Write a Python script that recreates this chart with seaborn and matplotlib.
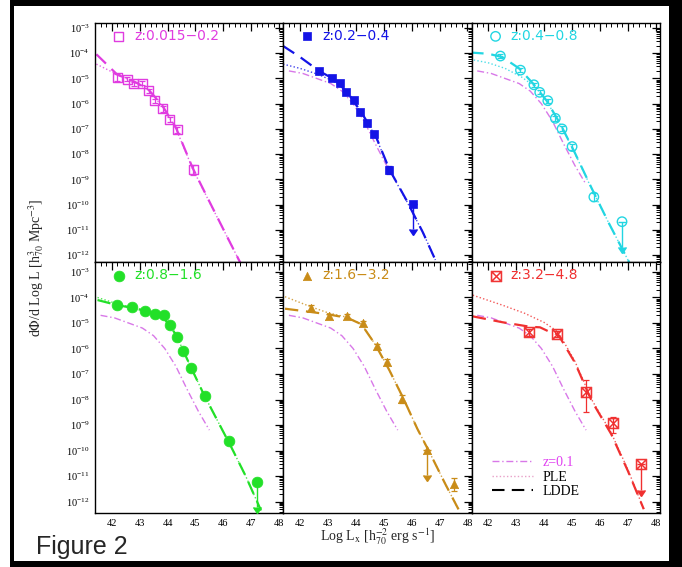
import matplotlib
matplotlib.use("Agg")
import matplotlib.pyplot as plt
import numpy as np
import seaborn as sns
from matplotlib.lines import Line2D
from matplotlib.patches import Rectangle
from matplotlib.ticker import LogLocator, MultipleLocator, NullFormatter

# ---------------------------------------------------------------------------
# Data (x = log L_x, values = log10 dPhi/dlogL)
# ---------------------------------------------------------------------------

# reference z=0.1 model, repeated in panels 2-6
Z01_X = [41.6, 42.1, 42.6, 43.1, 43.5, 43.9, 44.3, 44.7, 45.1, 45.5]
Z01_LOGPHI = [-4.7, -4.8, -5.0, -5.2, -5.5, -6.0, -6.7, -7.6, -8.45, -9.2]

# z: 0.015-0.2
P1_X = [42.19, 42.55, 42.79, 43.09, 43.33, 43.54, 43.83, 44.08, 44.34, 44.92]
P1_LOGPHI = [-4.96, -5.03, -5.20, -5.18, -5.49, -5.88, -6.21, -6.63, -7.03, -8.62]
P1_ERR = [0.12, 0.08, 0.08, 0.08, 0.08, 0.08, 0.1, 0.1, 0.12, 0.2]
P1_LIM_X = []
P1_LIM_LOGPHI = []
P1_LDDE_X = [41.45, 42.2, 42.8, 43.3, 43.8, 44.3, 44.9, 45.5, 46.1, 46.65]
P1_LDDE = [-4.04, -4.85, -5.12, -5.42, -6.05, -6.95, -8.55, -9.88, -11.2, -12.4]
P1_PLE_X = [41.45, 42.3, 42.8, 43.3, 43.8, 44.3, 44.9, 45.5, 46.1, 46.65]
P1_PLE = [-4.43, -4.9, -5.14, -5.45, -6.08, -6.98, -8.58, -9.9, -11.2, -12.4]

# z: 0.2-0.4
P2_X = [42.68, 43.16, 43.42, 43.66, 43.92, 44.16, 44.41, 44.65, 45.18]
P2_LOGPHI = [-4.72, -4.99, -5.16, -5.55, -5.86, -6.34, -6.78, -7.20, -8.62]
P2_ERR = [0.1, 0.08, 0.08, 0.08, 0.08, 0.1, 0.1, 0.12, 0.15]
P2_LIM_X = [46.05]
P2_LIM_LOGPHI = [-9.96]
P2_LDDE_X = [41.39, 42.0, 42.68, 43.2, 43.7, 44.2, 44.7, 45.2, 45.8, 46.4, 46.85]
P2_LDDE = [-3.71, -4.15, -4.70, -5.02, -5.55, -6.35, -7.25, -8.6, -9.8, -11.1, -12.2]
P2_PLE_X = [41.39, 42.0, 42.6, 43.2, 43.7, 44.2, 44.7, 45.2, 45.8, 46.4, 46.85]
P2_PLE = [-4.43, -4.6, -4.82, -5.1, -5.58, -6.38, -7.28, -8.62, -9.82, -11.1, -12.2]

# z: 0.4-0.8
P3_X = [42.43, 43.15, 43.63, 43.84, 44.13, 44.40, 44.64, 45.0, 45.78]
P3_LOGPHI = [-4.11, -4.67, -5.25, -5.55, -5.88, -6.58, -7.0, -7.70, -9.70]
P3_ERR = [0.08, 0.08, 0.08, 0.08, 0.08, 0.1, 0.1, 0.12, 0.15]
P3_LIM_X = [46.79]
P3_LIM_LOGPHI = [-10.68]
P3_LDDE_X = [41.35, 42.0, 42.5, 43.1, 43.6, 44.1, 44.6, 45.1, 45.7, 46.3, 47.05]
P3_LDDE = [-3.97, -4.02, -4.15, -4.6, -5.2, -5.9, -6.85, -7.95, -9.35, -10.7, -12.3]
P3_PLE_X = [41.35, 42.0, 42.6, 43.2, 43.7, 44.1, 44.6, 45.1, 45.7, 46.3, 47.05]
P3_PLE = [-4.24, -4.38, -4.6, -4.95, -5.35, -5.92, -6.87, -7.97, -9.37, -10.7, -12.3]

# z: 0.8-1.6
P4_X = [42.20, 42.72, 43.19, 43.55, 43.87, 44.09, 44.35, 44.57, 44.83, 45.34, 46.20]
P4_LOGPHI = [-4.30, -4.37, -4.54, -4.64, -4.68, -5.06, -5.54, -6.09, -6.75, -7.88, -9.64]
P4_ERR = [0.06, 0.06, 0.06, 0.06, 0.06, 0.06, 0.06, 0.06, 0.08, 0.1, 0.12]
P4_LIM_X = [47.20]
P4_LIM_LOGPHI = [-11.23]
P4_LDDE_X = [41.49, 42.2, 42.8, 43.4, 43.9, 44.3, 44.8, 45.3, 45.8, 46.3, 46.8, 47.35]
P4_LDDE = [-4.1, -4.3, -4.42, -4.58, -4.85, -5.45, -6.65, -7.8, -8.85, -9.9, -11.0, -12.35]
P4_PLE_X = [41.49, 42.2, 42.8, 43.4, 43.9, 44.3, 44.8, 45.3, 45.8, 46.3, 46.8, 47.35]
P4_PLE = [-4.0, -4.25, -4.4, -4.57, -4.85, -5.45, -6.65, -7.8, -8.85, -9.9, -11.0, -12.35]

# z: 1.6-3.2
P5_X = [42.39, 43.04, 43.67, 44.27, 44.77, 45.11, 45.67, 47.53]
P5_LOGPHI = [-4.41, -4.74, -4.74, -5.01, -5.92, -6.53, -7.99, -11.32]
P5_ERR = [0.12, 0.1, 0.08, 0.1, 0.1, 0.12, 0.15, 0.25]
P5_LIM_X = [46.54]
P5_LIM_LOGPHI = [-9.97]
P5_LDDE_X = [41.46, 42.4, 43.0, 43.7, 44.2, 44.7, 45.2, 45.7, 46.2, 46.7, 47.2, 47.7]
P5_LDDE = [-4.44, -4.57, -4.66, -4.8, -5.05, -5.85, -6.85, -7.95, -9.14, -10.2, -11.3, -12.35]
P5_PLE_X = [41.46, 42.4, 43.0, 43.7, 44.2, 44.7, 45.2, 45.7, 46.2, 46.7, 47.2, 47.7]
P5_PLE = [-3.97, -4.37, -4.6, -4.78, -5.05, -5.85, -6.85, -7.95, -9.14, -10.2, -11.3, -12.35]

# z: 3.2-4.8
P6_X = [43.47, 44.45, 45.51, 46.46]
P6_LOGPHI = [-5.36, -5.43, -7.71, -8.94]
P6_ERR_LO = [0.15, 0.12, 0.79, 0.36]
P6_ERR_HI = [0.12, 0.1, 0.49, 0.26]
P6_LIM_X = [47.47]
P6_LIM_LOGPHI = [-10.53]
P6_LDDE_X = [41.44, 42.5, 43.5, 43.85, 44.2, 44.5, 45.1, 45.7, 46.4, 47.0, 47.57]
P6_LDDE = [-4.74, -4.97, -5.15, -5.17, -5.35, -5.45, -6.55, -8.05, -9.35, -10.8, -12.3]
P6_PLE_X = [41.44, 42.5, 43.3, 44.0, 44.5, 45.1, 45.7, 46.4, 47.0, 47.57]
P6_PLE = [-3.91, -4.3, -4.62, -4.98, -5.35, -6.5, -8.0, -9.3, -10.75, -12.3]

PANEL_LABELS = ["z:0.015\u22120.2", "z:0.2\u22120.4", "z:0.4\u22120.8",
                "z:0.8\u22121.6", "z:1.6\u22123.2", "z:3.2\u22124.8"]

# ---------------------------------------------------------------------------
# Styling
# ---------------------------------------------------------------------------
Z01_COLOR = "#d878e8"
PANEL_STYLE = [
    dict(color="#e03ce0", marker="s", s=42, open=True, z01=False),
    dict(color="#1414e6", marker="s", s=32, open=False, z01=True),
    dict(color="#22d6e2", marker="o", s=46, open=True, z01=True),
    dict(color="#22e028", marker="o", s=60, open=False, z01=True),
    dict(color="#c98c18", marker="^", s=36, open=False, z01=True),
    dict(color="#f03030", marker=r"$\boxtimes$", s=60, open=False, z01=True),
]
LDDE_DASH = (0, (6, 3.5))
PLE_DOT = (0, (1, 1.6))
Z01_DASHDOT = (0, (5, 2, 1, 2))
ROW_YLIM = [(10 ** -12.28, 10 ** -2.8), (10 ** -12.45, 10 ** -2.61)]

PANELS = [
    dict(x=P1_X, y=P1_LOGPHI, elo=P1_ERR, ehi=P1_ERR, lx=P1_LIM_X, ly=P1_LIM_LOGPHI,
         ldx=P1_LDDE_X, ldy=P1_LDDE, px=P1_PLE_X, py=P1_PLE),
    dict(x=P2_X, y=P2_LOGPHI, elo=P2_ERR, ehi=P2_ERR, lx=P2_LIM_X, ly=P2_LIM_LOGPHI,
         ldx=P2_LDDE_X, ldy=P2_LDDE, px=P2_PLE_X, py=P2_PLE),
    dict(x=P3_X, y=P3_LOGPHI, elo=P3_ERR, ehi=P3_ERR, lx=P3_LIM_X, ly=P3_LIM_LOGPHI,
         ldx=P3_LDDE_X, ldy=P3_LDDE, px=P3_PLE_X, py=P3_PLE),
    dict(x=P4_X, y=P4_LOGPHI, elo=P4_ERR, ehi=P4_ERR, lx=P4_LIM_X, ly=P4_LIM_LOGPHI,
         ldx=P4_LDDE_X, ldy=P4_LDDE, px=P4_PLE_X, py=P4_PLE),
    dict(x=P5_X, y=P5_LOGPHI, elo=P5_ERR, ehi=P5_ERR, lx=P5_LIM_X, ly=P5_LIM_LOGPHI,
         ldx=P5_LDDE_X, ldy=P5_LDDE, px=P5_PLE_X, py=P5_PLE),
    dict(x=P6_X, y=P6_LOGPHI, elo=P6_ERR_LO, ehi=P6_ERR_HI, lx=P6_LIM_X, ly=P6_LIM_LOGPHI,
         ldx=P6_LDDE_X, ldy=P6_LDDE, px=P6_PLE_X, py=P6_PLE),
]


def lin(v):
    return 10.0 ** np.asarray(v, dtype=float)


def draw_panel(ax, d, st, label):
    c = st["color"]
    ax.set_yscale("log")

    if st["z01"]:
        sns.lineplot(x=Z01_X, y=lin(Z01_LOGPHI), ax=ax, color=Z01_COLOR, lw=1.0,
                     linestyle=Z01_DASHDOT, estimator=None, sort=False, legend=False)
    sns.lineplot(x=d["px"], y=lin(d["py"]), ax=ax, color=c, lw=1.0, alpha=0.8,
                 linestyle=PLE_DOT, estimator=None, sort=False, legend=False)
    sns.lineplot(x=d["ldx"], y=lin(d["ldy"]), ax=ax, color=c, lw=1.6,
                 linestyle=LDDE_DASH, estimator=None, sort=False, legend=False)

    # error bars (given in dex)
    y = lin(d["y"])
    lo = y - lin(np.asarray(d["y"]) - np.asarray(d["elo"]))
    hi = lin(np.asarray(d["y"]) + np.asarray(d["ehi"])) - y
    ax.errorbar(d["x"], y, yerr=[lo, hi], fmt="none", ecolor=c,
                elinewidth=0.9, capsize=2.5, capthick=0.9, zorder=3)

    # upper limits: one dex arrow down
    if len(d["lx"]):
        yl = lin(d["ly"])
        eb = ax.errorbar(d["lx"], yl, yerr=yl * 0.9, uplims=True, fmt="none",
                         ecolor=c, elinewidth=1.0, capsize=3, zorder=3)
        for cap in eb[1]:
            cap.set_color(c)
            cap.set_markerfacecolor(c)
            cap.set_markeredgecolor(c)

    xs = list(d["x"]) + list(d["lx"])
    ys = np.concatenate([y, lin(d["ly"])]) if len(d["lx"]) else y
    kw = dict(marker=st["marker"], s=st["s"], zorder=4, legend=False, label=label)
    if st["open"]:
        kw.update(facecolor="none", edgecolor=c, linewidth=1.0)
    else:
        kw.update(color=c, edgecolor=c, linewidth=0.5)
    sns.scatterplot(x=xs, y=ys, ax=ax, **kw)

    ax.legend(loc="upper left", bbox_to_anchor=(0.09, 0.975), frameon=False,
              handlelength=1.0, handletextpad=0.6, borderpad=0, borderaxespad=0,
              scatterpoints=1, labelcolor=c,
              prop=dict(family="DejaVu Sans", size=10))


sns.set_style("white")
plt.rcParams["font.family"] = ["Liberation Serif", "DejaVu Serif"]
plt.rcParams["mathtext.fontset"] = "stix"

fig, axes = plt.subplots(2, 3, figsize=(6.82, 5.67), dpi=100, sharex=True,
                         sharey="row", gridspec_kw=dict(height_ratios=[239, 251]))
fig.subplots_adjust(left=0.1393, right=0.9677, bottom=0.0952, top=0.9594,
                    wspace=0, hspace=0)

for i, ax in enumerate(axes.flat):
    draw_panel(ax, PANELS[i], PANEL_STYLE[i], PANEL_LABELS[i])
    ax.set_xlim(41.4, 48.15)
    ax.set_ylim(*ROW_YLIM[i // 3])
    ax.xaxis.set_major_locator(MultipleLocator(1))
    ax.xaxis.set_minor_locator(MultipleLocator(0.2))
    ax.yaxis.set_major_locator(LogLocator(base=10, numticks=20))
    ax.yaxis.set_minor_locator(LogLocator(base=10, subs=np.arange(2, 10), numticks=20))
    ax.yaxis.set_minor_formatter(NullFormatter())
    ax.tick_params(which="both", direction="in", top=True, right=True,
                   labelsize=7.5, colors="black", pad=4)
    ax.tick_params(which="major", length=5.5, width=0.9)
    ax.tick_params(which="minor", length=2.8, width=0.7)
    ax.tick_params(labelleft=(i % 3 == 0), labelbottom=(i >= 3))
    for sp in ax.spines.values():
        sp.set_color("black")
        sp.set_linewidth(1.0)
    ax.set_xlabel("")
    ax.set_ylabel("")

# model key in the last panel
ax6 = axes[1, 2]
ax6.add_artist(ax6.get_legend())
model_handles = [
    Line2D([], [], color=Z01_COLOR, lw=1.0, linestyle=Z01_DASHDOT),
    Line2D([], [], color="#e8a0c8", lw=1.0, linestyle=PLE_DOT),
    Line2D([], [], color="black", lw=1.5, linestyle=LDDE_DASH),
]
ax6.legend(model_handles, ["z=0.1", "PLE", "LDDE"], loc="lower left",
           bbox_to_anchor=(0.11, 0.06), frameon=False, handlelength=2.9,
           handletextpad=0.7, labelspacing=0.1, borderpad=0, borderaxespad=0,
           labelcolor=["#e040f0", "black", "black"], prop=dict(size=10))

fig.text(0.053, 0.527, r"d$\Phi$/d Log L [h$^{3}_{70}$ Mpc$^{-3}$]",
         rotation=90, ha="center", va="center", fontsize=10)
fig.text(0.554, 0.053, r"Log L$_{\rm x}$ [h$^{-2}_{70}$ erg s$^{-1}$]",
         ha="center", va="center", fontsize=10)
fig.text(36 / 682, 1 - 554 / 567, "Figure 2", fontsize=18,
         family=["Liberation Sans", "DejaVu Sans"], va="baseline", ha="left")

# black frame round the scan
for (x0, y0, w, h) in [(10, 0, 4, 567), (10, 561, 672, 6), (669, 0, 13, 567), (10, 0, 672, 6)]:
    fig.patches.append(Rectangle((x0 / 682, 1 - (y0 + h) / 567), w / 682, h / 567,
                                 transform=fig.transFigure, facecolor="black",
                                 edgecolor="none", zorder=10))

fig.savefig("out.png", dpi=100)
